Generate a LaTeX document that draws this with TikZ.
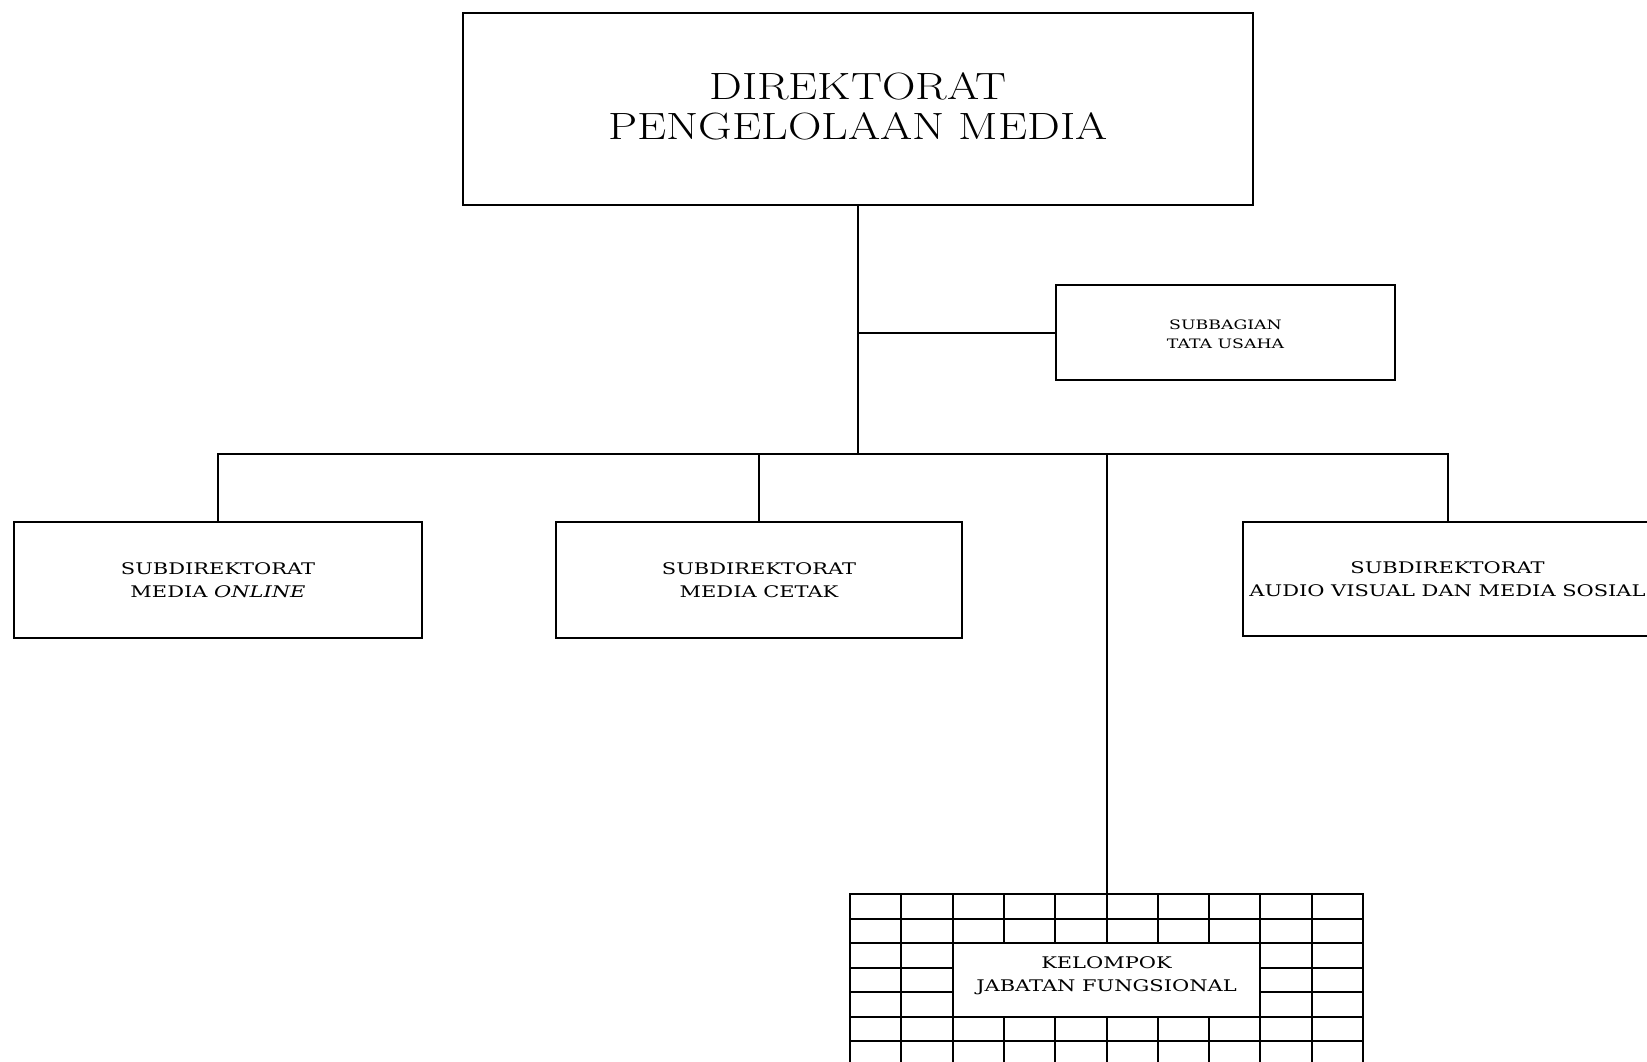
\documentclass[tikz,border=0pt]{standalone}
\usepackage{fontspec}
\newfontfamily\slab{DejaVu Serif}
\newcommand\twol[2]{\begin{tabular}{@{}c@{}}#1\\#2\end{tabular}}
\newcommand\shiftv[2]{\raisebox{#1}[\height][\depth]{#2}}
\begin{document}
\begin{tikzpicture}[x=1pt,y=-1pt,
  box/.style={draw, line width=2pt, inner sep=0pt, align=center, fill=white},
  conn/.style={line width=2pt, line cap=rect},
  bigtxt/.style={font=\fontsize{38}{40}\selectfont},
  midtxt/.style={font=\slab\fontsize{16}{23}\selectfont},
  smalltxt/.style={font=\slab\fontsize{13}{18.5}\selectfont}]
\useasboundingbox (0,0) rectangle (1647,1062);
\clip (0,0) rectangle (1647,1062);
\fill[white] (0,0) rectangle (1647,1062);

% grid of the functional group
\foreach \i in {0,...,10}
  \draw[conn] ({850+\i*51.3},894) -- ({850+\i*51.3},1075);
\foreach \j in {0,...,7}
  \draw[conn] (850,{894+\j*24.5}) -- (1363,{894+\j*24.5});
\coordinate (gtop) at (1106.5,894);

\node[box, minimum width=790pt, minimum height=192pt, bigtxt] (dir) at (858,109)
  {\shiftv{-3pt}{\scalebox{1.22}[1]{\twol{DIREKTORAT}{PENGELOLAAN MEDIA}}}};
\node[box, minimum width=339pt, minimum height=95pt, smalltxt] (sub) at (1225.5,332.5)
  {\shiftv{-3pt}{\scalebox{1.33}[1]{\twol{SUBBAGIAN}{TATA USAHA}}}};
\node[box, minimum width=408pt, minimum height=116pt, midtxt] (left) at (218,580)
  {\shiftv{-1.5pt}{\scalebox{1.31}[1]{\twol{SUBDIREKTORAT}{MEDIA \textit{ONLINE}}}}};
\node[box, minimum width=406pt, minimum height=116pt, midtxt] (mid) at (759,580)
  {\shiftv{-1.5pt}{\scalebox{1.31}[1]{\twol{SUBDIREKTORAT}{MEDIA CETAK}}}};
\node[box, minimum width=409pt, minimum height=114pt, midtxt] (right) at (1447.5,579)
  {\shiftv{-1.5pt}{\scalebox{1.31}[1]{\twol{SUBDIREKTORAT}{AUDIO VISUAL DAN MEDIA SOSIAL}}}};
\node[box, minimum width=307.8pt, minimum height=73.5pt, midtxt] (kel) at (1106.5,979.75)
  {\shiftv{4pt}{\scalebox{1.31}[1]{\twol{KELOMPOK}{JABATAN FUNGSIONAL}}}};

\coordinate (j1) at (dir.south |- sub.west);
\coordinate (j2) at (858,454);
\draw[conn] (dir.south) -- (j2);
\draw[conn] (j1) -- (sub.west);
\draw[conn] (left.north) |- (j2) -| (right.north);
\draw[conn] (mid.north) -- (mid.north |- j2);
\draw[conn] (gtop) -- (gtop |- j2);
\end{tikzpicture}
\end{document}
